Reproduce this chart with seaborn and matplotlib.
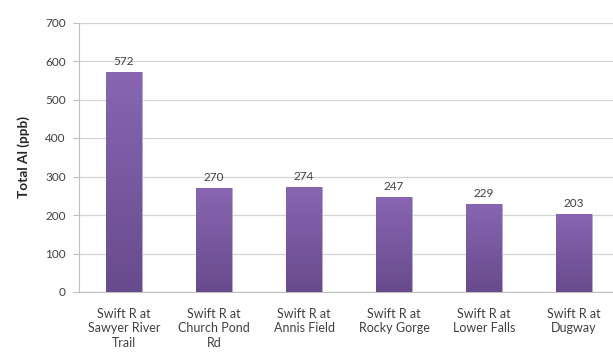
import numpy as np
import pandas as pd
import seaborn as sns
import matplotlib.pyplot as plt
from matplotlib.colors import LinearSegmentedColormap

# dados
sites = ["Swift R at\nSawyer River\nTrail", "Swift R at\nChurch Pond\nRd", "Swift R at\nAnnis Field",
         "Swift R at\nRocky Gorge", "Swift R at\nLower Falls", "Swift R at\nDugway"]
total_al = [572, 270, 274, 247, 229, 203]
y_ticks = [0, 100, 200, 300, 400, 500, 600, 700]

df = pd.DataFrame({"site": sites, "total_al": total_al})

sns.set_style("white")
plt.rcParams['font.family'] = ['Lato', 'DejaVu Sans']

fig = plt.figure(figsize=(6.13, 3.58), dpi=100)
ax = fig.add_axes([79 / 613, 1 - 292 / 358, 534 / 613, (292 - 22.5) / 358])

sns.barplot(data=df, x="site", y="total_al", color="#7a5aa0", width=0.4, ax=ax, zorder=3)

# gradiente vertical em cada barra
cmap = LinearSegmentedColormap.from_list("roxo", ["#684b8c", "#8866b2"])
grad = np.linspace(0, 1, 256).reshape(-1, 1)
for p in ax.patches:
    x0, y0 = p.get_x(), p.get_y()
    w, h = p.get_width(), p.get_height()
    im = ax.imshow(grad, cmap=cmap, origin="lower", aspect="auto",
                   extent=[x0, x0 + w, y0, y0 + h], zorder=4)
    im.set_clip_path(p)
    p.set_edgecolor("#b9a9cf")
    p.set_linewidth(0.6)

for i, v in enumerate(total_al):
    ax.text(i, v + 12, str(v), ha="center", va="bottom", fontsize=8.5, color="#404040", zorder=5)

ax.set_xlim(-0.5, -0.5 + 534 / 90)
ax.set_ylim(0, 700)
ax.set_yticks(y_ticks)
ax.yaxis.grid(True, color="#d4d4d4", linewidth=0.9, zorder=0)
ax.set_axisbelow(True)
for s in ["top", "right"]:
    ax.spines[s].set_visible(False)
ax.spines["left"].set_color("#bfbfbf")
ax.spines["bottom"].set_color("#bfbfbf")
ax.tick_params(axis="y", left=True, length=4.5, color="#bfbfbf", labelsize=8.5, labelcolor="#404040", pad=5)
ax.tick_params(axis="x", bottom=False, labelsize=9, labelcolor="#404040", pad=8)
ax.set_xlabel("")
ax.set_ylabel("Total Al (ppb)", fontsize=9.8, fontweight="bold", color="#262626", labelpad=11)
ax.set_xticks(range(len(sites)))
ax.set_xticklabels(sites, linespacing=1.25)

fig.savefig("out.png", dpi=100)
